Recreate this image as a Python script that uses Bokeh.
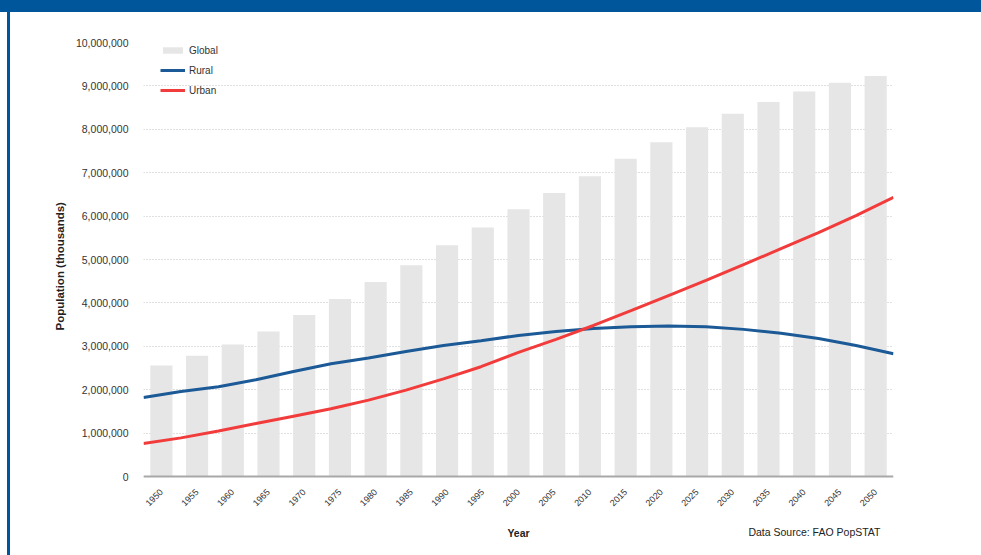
import math
from bokeh.plotting import figure
from bokeh.models import (Range1d, NumeralTickFormatter, FixedTicker, Legend, LegendItem, Title)
from bokeh.core.properties import value
from bokeh.embed import file_html
from bokeh.resources import INLINE

years = [1950, 1955, 1960, 1965, 1970, 1975, 1980, 1985, 1990, 1995,
         2000, 2005, 2010, 2015, 2020, 2025, 2030, 2035, 2040, 2045, 2050]
global_pop = [2560000, 2780000, 3040000, 3340000, 3720000, 4090000, 4480000, 4870000, 5330000, 5740000,
              6160000, 6530000, 6920000, 7320000, 7700000, 8050000, 8360000, 8630000, 8870000, 9070000, 9230000]
rural_pop = [1820000, 1960000, 2070000, 2230000, 2420000, 2600000, 2730000, 2880000, 3020000, 3130000,
             3250000, 3340000, 3410000, 3450000, 3470000, 3450000, 3390000, 3300000, 3180000, 3020000, 2830000]
urban_pop = [760000, 890000, 1050000, 1220000, 1390000, 1560000, 1760000, 1990000, 2250000, 2530000,
             2860000, 3160000, 3480000, 3820000, 4170000, 4520000, 4880000, 5250000, 5620000, 6010000, 6430000]
y_ticks = [0, 1000000, 2000000, 3000000, 4000000, 5000000, 6000000, 7000000, 8000000, 9000000, 10000000]
source_text = "Data Source: FAO PopSTAT"
y_title = "Population (thousands)"

FONT = "Liberation Sans"
BLUE = "#00569A"

# frame extends below the zero line so the footer texts can live inside it
p = figure(width=981, height=555, output_backend="svg", toolbar_location=None,
           x_range=Range1d(1947.5, 2052.5), y_range=Range1d(-1705000, 10000000),
           min_border_left=143, min_border_right=88, min_border_top=42, min_border_bottom=5,
           background_fill_color="white", border_fill_alpha=0)
p.styles = {
    "background-color": "white",
    "background-image": f"linear-gradient({BLUE}, {BLUE}), linear-gradient({BLUE}, {BLUE})",
    "background-size": "100% 12px, 3px 100%",
    "background-position": "0 0, 7px 0",
    "background-repeat": "no-repeat",
}
p.outline_line_color = None
p.extra_x_ranges = {"yr": Range1d(1950, 2050)}

bars = p.vbar(x=years, top=global_pop, bottom=0, width=3.1, fill_color="#E6E6E6", line_color=None)
rural = p.line(years, rural_pop, x_range_name="yr", line_color="#1B5A96", line_width=3)
urban = p.line(years, urban_pop, x_range_name="yr", line_color="#F23C3C", line_width=3)

p.text(x=[2050], y=[-1270000], text=[source_text], x_range_name="yr", x_offset=-13,
       text_align="right", text_baseline="middle", text_font=value(FONT), text_font_size="10.5px",
       text_color="#222222")

p.xgrid.grid_line_color = None
p.ygrid.grid_line_color = "#C0C0C0"
p.ygrid.grid_line_dash = "1 2"
p.ygrid.grid_line_width = 1

p.yaxis.ticker = FixedTicker(ticks=y_ticks)
p.yaxis.formatter = NumeralTickFormatter(format="0,0")
p.yaxis.axis_line_color = None
p.yaxis.major_tick_line_color = None
p.yaxis.minor_tick_line_color = None
p.yaxis.major_label_standoff = 9
p.yaxis.major_label_text_font = FONT
p.yaxis.major_label_text_font_size = "10.5px"
p.yaxis.major_label_text_color = "#333333"

# y-axis title as a left-side title so it can be centred on the 0..10M span
ytitle = Title(text=y_title, align="left", offset=220, standoff=14,
               text_font=FONT, text_font_size="11.5px", text_font_style="bold",
               text_color="#222222")
p.add_layout(ytitle, "left")

p.xaxis.fixed_location = 0
p.xaxis.ticker = FixedTicker(ticks=years)
p.xaxis.axis_line_color = "#A8A8A8"
p.xaxis.axis_line_width = 2
p.xaxis.major_tick_line_color = None
p.xaxis.minor_tick_line_color = None
p.xaxis.major_label_orientation = math.pi / 4
p.xaxis.major_label_text_font = FONT
p.xaxis.major_label_text_font_size = "9px"
p.xaxis.major_label_text_color = "#333333"
p.xaxis.major_label_standoff = 8
p.xaxis.axis_label = "Year"
p.xaxis.axis_label_text_font = FONT
p.xaxis.axis_label_text_font_size = "10.5px"
p.xaxis.axis_label_text_font_style = "bold"
p.xaxis.axis_label_text_color = "#222222"
p.xaxis.axis_label_standoff = 15

legend = Legend(items=[LegendItem(label="Global", renderers=[bars]),
                       LegendItem(label="Rural", renderers=[rural]),
                       LegendItem(label="Urban", renderers=[urban])],
                location="top_left", orientation="vertical",
                border_line_color=None, background_fill_alpha=0,
                padding=0, margin=0, spacing=6,
                glyph_width=25, glyph_height=8, label_height=14,
                label_text_font=FONT, label_text_font_size="10px", label_text_color="#333333",
                label_standoff=4)
legend.location = (17, 453)
p.add_layout(legend)

open("out.html", "w").write(file_html(p, INLINE))
